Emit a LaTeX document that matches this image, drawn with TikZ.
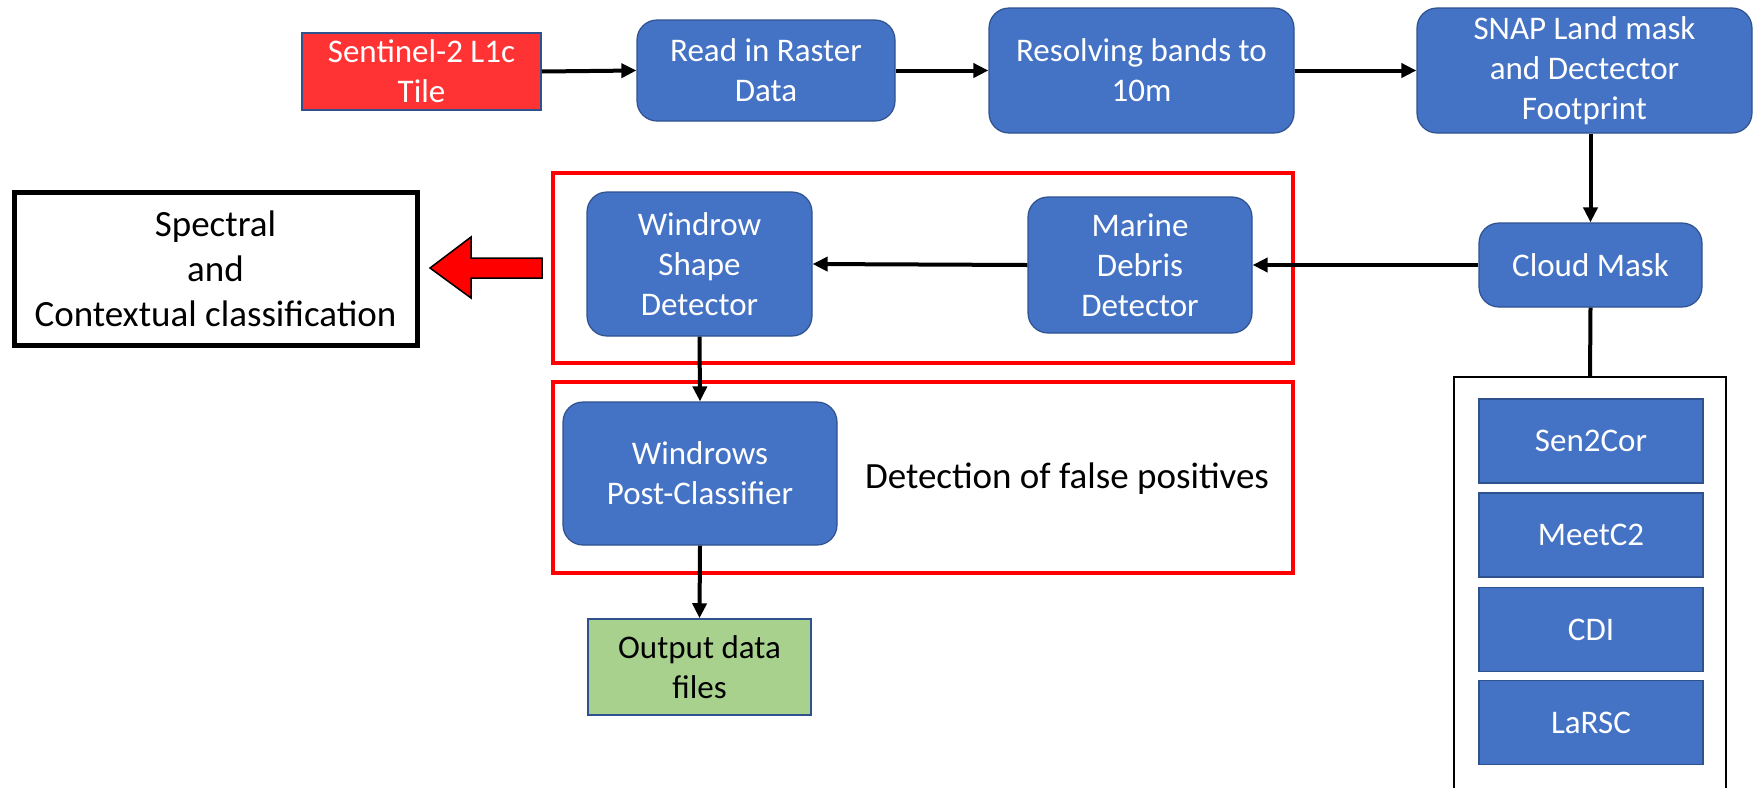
\documentclass[tikz,border=0pt]{standalone}
\usepackage{fontspec}
\setmainfont{Carlito}
\usetikzlibrary{arrows.meta}
\definecolor{boxblue}{HTML}{4472C4}
\definecolor{edgeblue}{HTML}{2F528F}
\definecolor{tilered}{HTML}{FF3333}
\definecolor{outgreen}{HTML}{A9D18E}
\definecolor{framered}{HTML}{FF0000}
\begin{document}
\begin{tikzpicture}[x=1pt,y=-1pt,
  bluebox/.style={draw=edgeblue, fill=boxblue, line width=1.2pt, rounded corners=20pt,
    text=white, align=center, inner sep=0pt, font=\fontsize{33}{40}\selectfont},
  flatbox/.style={draw=edgeblue, fill=boxblue, line width=1.2pt,
    text=white, align=center, inner sep=0pt, font=\fontsize{33}{40}\selectfont},
  tilebox/.style={draw=edgeblue, fill=tilered, line width=1.5pt,
    text=white, align=center, inner sep=0pt, font=\fontsize{33}{40}\selectfont},
  outbox/.style={draw=edgeblue, fill=outgreen, line width=1.5pt,
    text=black, align=center, inner sep=0pt, font=\fontsize{33}{40}\selectfont},
  bigtext/.style={align=center, inner sep=0pt, font=\fontsize{37}{45}\selectfont},
  conn/.style={line width=4pt, -{Triangle[length=15pt,width=14pt]}},
  plainconn/.style={line width=4pt},
  redframe/.style={draw=framered, line width=4pt}
]
\useasboundingbox (0,0) rectangle (1754,788);

% frames
\draw[redframe] (553,173) rectangle (1293,363);
\draw[redframe] (553,382) rectangle (1293,573);

% top row
\node[tilebox, minimum width=239pt, minimum height=77pt] (sent) at (421.5,71.5) {Sentinel-2 L1c\\Tile};
\node[bluebox, minimum width=258pt, minimum height=101pt] (read) at (766,70.5) {Read in Raster\\Data};
\node[bluebox, minimum width=305pt, minimum height=125pt] (resolve) at (1141.5,70.5) {Resolving bands to\\10m};
\node[bluebox, minimum width=335pt, minimum height=125pt] (snap) at (1584.5,70.5) {SNAP Land mask\\and Dectector\\Footprint};

% middle row
\node[bluebox, minimum width=223pt, minimum height=84pt] (cloud) at (1590.5,265) {Cloud Mask};
\node[bluebox, minimum width=224pt, minimum height=136pt] (marine) at (1140,265) {Marine\\Debris\\Detector};
\node[bluebox, minimum width=225pt, minimum height=144pt] (windrow) at (699.5,264) {Windrow\\Shape\\Detector};
\node[draw=black, line width=5pt, minimum width=403pt, minimum height=153pt, bigtext] (spectral) at (215.5,268.5) {Spectral\\and\\Contextual classification};

% lower
\node[bluebox, minimum width=274pt, minimum height=143pt] (post) at (700,473.5) {Windrows\\Post-Classifier};
\node[bigtext] (falsepos) at (1067,479) {Detection of false positives};
\node[outbox, minimum width=223pt, minimum height=96pt] (output) at (699.5,667) {Output data\\files};

% cloud mask algorithms
\coordinate (wbtop) at (1590,377);
\draw[line width=2pt] (1454,788) -- (1454,377) -- (1726,377) -- (1726,788);
\node[flatbox, minimum width=224pt, minimum height=84pt] (sen) at (1591,441) {Sen2Cor};
\node[flatbox, minimum width=224pt, minimum height=84pt] (meet) at (1591,535) {MeetC2};
\node[flatbox, minimum width=224pt, minimum height=84pt] (cdi) at (1591,629.5) {CDI};
\node[flatbox, minimum width=224pt, minimum height=84pt] (larsc) at (1591,722.5) {LaRSC};

% connectors
\draw[conn] (sent.east) -- (read.west);
\draw[conn] (read.east) -- (resolve.west);
\draw[conn] (resolve.east) -- (snap.west);
\draw[conn] (snap.south -| cloud.north) -- (cloud.north);
\draw[conn] (cloud.west) -- (marine.east);
\draw[conn] (marine.west) -- (windrow.east);
\draw[conn] (windrow.south) -- (post.north);
\draw[conn] (post.south) -- (output.north);
\draw[plainconn] (cloud.south) -- (wbtop);

% red block arrow
\draw[fill=framered, draw=black, line width=1.5pt, line join=miter]
  (542,258) -- (471,258) -- (471,237) -- (430,268) -- (471,298) -- (471,278) -- (542,278) -- cycle;
\end{tikzpicture}
\end{document}
